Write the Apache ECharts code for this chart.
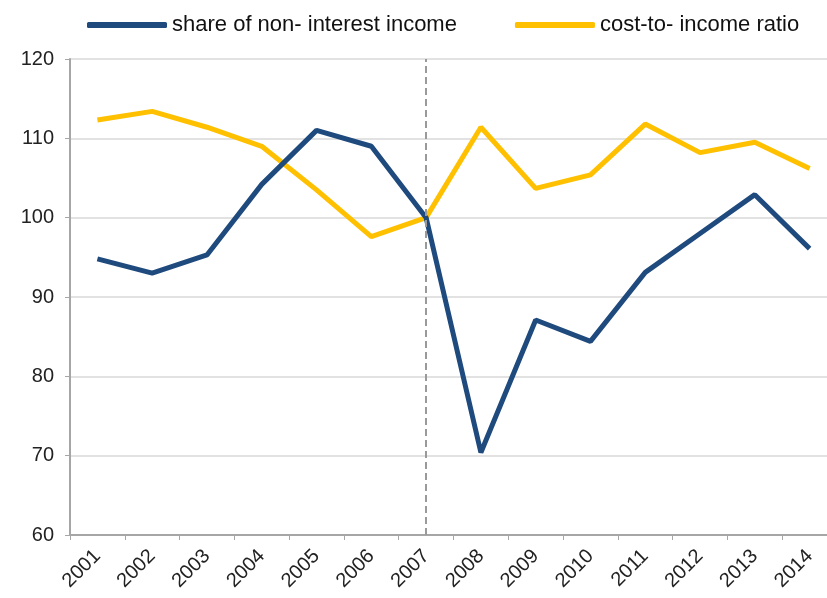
<!DOCTYPE html>
<html>
<head>
<meta charset="utf-8">
<script src="https://cdn.jsdelivr.net/npm/echarts@6/dist/echarts.min.js"></script>
<style>
  html, body { margin: 0; padding: 0; background: #fff; }
  #main { width: 827px; height: 598px; }
</style>
</head>
<body>
<div id="main"></div>
<script>
var years = ['2001','2002','2003','2004','2005','2006','2007','2008','2009','2010','2011','2012','2013','2014'];
var nonInterestShare = [94.8, 93.0, 95.3, 104.2, 111.0, 109.0, 100.0, 70.4, 87.1, 84.4, 93.1, 98.0, 102.9, 96.1];
var costToIncome = [112.3, 113.4, 111.4, 109.0, 103.5, 97.6, 100.0, 111.4, 103.7, 105.4, 111.8, 108.2, 109.5, 106.2];
var seriesNames = ['share of non- interest income', 'cost-to- income ratio'];
var markYear = '2007';

var chart = echarts.init(document.getElementById('main'));

var option = {
    animation: false,
    backgroundColor: '#ffffff',
    legend: {
        data: seriesNames,
        orient: 'horizontal',
        left: 82,
        top: 9,
        width: 740,
        itemWidth: 80,
        itemHeight: 6,
        itemGap: 58,
        icon: 'roundRect',
        textStyle: {
            fontFamily: '"Liberation Sans", Arial, sans-serif',
            fontSize: 22,
            color: '#111'
        }
    },
    grid: {
        left: 70,
        top: 59,
        width: 767,
        height: 476,
        containLabel: false,
        outerBoundsMode: 'none'
    },
    xAxis: {
        type: 'category',
        data: years,
        boundaryGap: true,
        axisLine: { lineStyle: { color: '#a6a6a6', width: 2 } },
        axisTick: { show: true, interval: 0, length: 5, lineStyle: { color: '#a6a6a6', width: 1 } },
        axisLabel: {
            interval: 0,
            rotate: 45,
            margin: 18,
            fontFamily: '"Liberation Sans", Arial, sans-serif',
            fontSize: 20,
            color: '#222'
        },
        splitLine: { show: false }
    },
    yAxis: {
        type: 'value',
        min: 60,
        max: 120,
        interval: 10,
        axisLine: { show: true, lineStyle: { color: '#a6a6a6', width: 2 } },
        axisTick: { show: true, length: 5, lineStyle: { color: '#a6a6a6', width: 1 } },
        axisLabel: {
            margin: 16,
            fontFamily: '"Liberation Sans", Arial, sans-serif',
            fontSize: 20,
            color: '#222'
        },
        splitLine: { show: true, lineStyle: { color: '#d9d9d9', width: 1.5 } }
    },
    series: [
        {
            name: seriesNames[0],
            type: 'line',
            data: nonInterestShare,
            symbol: 'none',
            z: 3,
            lineStyle: { color: '#1f4a7e', width: 5 },
            itemStyle: { color: '#1f4a7e' },
            markLine: {
                silent: true,
                symbol: 'none',
                label: { show: false },
                lineStyle: { color: '#9a9a9a', type: [7, 4], width: 2 },
                data: [{ xAxis: markYear }]
            }
        },
        {
            name: seriesNames[1],
            type: 'line',
            data: costToIncome,
            symbol: 'none',
            z: 2,
            lineStyle: { color: '#ffc000', width: 5 },
            itemStyle: { color: '#ffc000' }
        }
    ]
};

chart.setOption(option);
</script>
</body>
</html>
